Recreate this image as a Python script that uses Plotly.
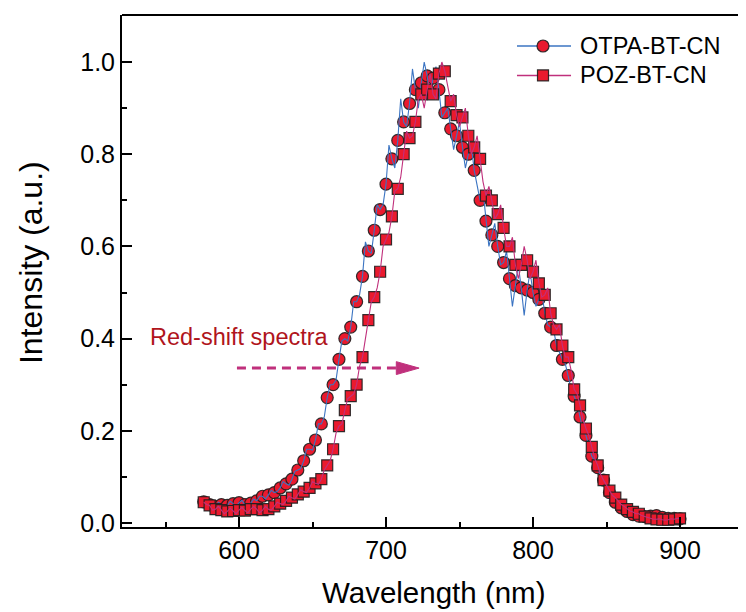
import plotly.graph_objects as go

# ---------------- data ----------------
wavelength = list(range(576, 901, 2))  # nm, 2 nm sampling

otpa_bt_cn = [
    0.046, 0.050, 0.040, 0.032, 0.036, 0.045, 0.040, 0.033, 0.038, 0.047,
    0.042, 0.036, 0.044, 0.049, 0.040, 0.035, 0.043, 0.052, 0.048, 0.058,
    0.058, 0.052, 0.061, 0.071, 0.066, 0.068, 0.076, 0.090, 0.085, 0.082,
    0.095, 0.112, 0.115, 0.118, 0.135, 0.160, 0.160, 0.158, 0.180, 0.215,
    0.215, 0.230, 0.272, 0.300, 0.300, 0.310, 0.355, 0.395, 0.400, 0.395,
    0.425, 0.480, 0.480, 0.495, 0.535, 0.610, 0.590, 0.585, 0.635, 0.690,
    0.680, 0.690, 0.735, 0.820, 0.790, 0.770, 0.830, 0.920, 0.870, 0.860,
    0.910, 0.985, 0.940, 0.900, 0.955, 1.000, 0.970, 0.920, 0.965, 0.990,
    0.940, 0.880, 0.890, 0.900, 0.855, 0.810, 0.840, 0.870, 0.815, 0.770,
    0.800, 0.820, 0.765, 0.730, 0.700, 0.720, 0.655, 0.600, 0.625, 0.650,
    0.600, 0.560, 0.565, 0.590, 0.530, 0.470, 0.515, 0.560, 0.510, 0.450,
    0.505, 0.545, 0.500, 0.470, 0.485, 0.500, 0.455, 0.430, 0.425, 0.420,
    0.385, 0.370, 0.355, 0.345, 0.320, 0.290, 0.275, 0.260, 0.230, 0.200,
    0.190, 0.170, 0.145, 0.135, 0.120, 0.100, 0.093, 0.080, 0.066, 0.050,
    0.045, 0.040, 0.033, 0.030, 0.025, 0.016, 0.018, 0.020, 0.015, 0.010,
    0.014, 0.018, 0.015, 0.011, 0.016, 0.014, 0.012, 0.008, 0.010, 0.013,
    0.010, 0.006, 0.009,
]

poz_bt_cn = [
    0.045, 0.040, 0.038, 0.028, 0.030, 0.036, 0.028, 0.020, 0.025, 0.032,
    0.026, 0.020, 0.028, 0.034, 0.027, 0.022, 0.030, 0.036, 0.030, 0.022,
    0.028, 0.036, 0.030, 0.028, 0.036, 0.045, 0.042, 0.040, 0.048, 0.058,
    0.055, 0.052, 0.062, 0.072, 0.068, 0.066, 0.076, 0.090, 0.086, 0.084,
    0.095, 0.115, 0.125, 0.135, 0.160, 0.195, 0.210, 0.215, 0.245, 0.270,
    0.275, 0.280, 0.300, 0.340, 0.360, 0.400, 0.440, 0.480, 0.490, 0.510,
    0.545, 0.600, 0.615, 0.630, 0.665, 0.720, 0.725, 0.750, 0.800, 0.850,
    0.835, 0.840, 0.870, 0.920, 0.930, 0.900, 0.940, 0.975, 0.930, 0.920,
    0.975, 1.000, 0.980, 0.950, 0.915, 0.930, 0.885, 0.860, 0.880, 0.900,
    0.840, 0.800, 0.815, 0.840, 0.790, 0.740, 0.710, 0.730, 0.700, 0.660,
    0.670, 0.690, 0.640, 0.600, 0.600, 0.620, 0.560, 0.530, 0.560, 0.600,
    0.570, 0.530, 0.545, 0.570, 0.520, 0.490, 0.495, 0.510, 0.455, 0.430,
    0.420, 0.430, 0.385, 0.360, 0.360, 0.330, 0.290, 0.280, 0.255, 0.225,
    0.205, 0.190, 0.165, 0.140, 0.125, 0.105, 0.093, 0.082, 0.070, 0.060,
    0.055, 0.048, 0.040, 0.036, 0.030, 0.026, 0.024, 0.020, 0.020, 0.016,
    0.014, 0.012, 0.010, 0.008, 0.008, 0.009, 0.007, 0.006, 0.007, 0.009,
    0.008, 0.010, 0.010,
]

series_names = ["OTPA-BT-CN", "POZ-BT-CN"]
x_ticks = [600, 700, 800, 900]
y_ticks = [0.0, 0.2, 0.4, 0.6, 0.8, 1.0]
x_title = "Wavelength (nm)"
y_title = "Intensity (a.u.)"
annotation_text = "Red-shift spectra"

# ---------------- styles ----------------
FONT = "Liberation Sans, Arial, sans-serif"
BLUE = "#3b74c2"
MAGENTA = "#c0307c"
RED = "#ea1a2e"
EDGE = "rgba(30,30,30,0.9)"
MARK_STEP = 2

circle_marker = dict(symbol="circle", size=12, color=RED, line=dict(color=EDGE, width=1.2))
square_marker = dict(symbol="square", size=11, color=RED, line=dict(color=EDGE, width=1.2))

fig = go.Figure()

# OTPA-BT-CN: symbols then line
fig.add_trace(go.Scatter(
    x=wavelength[::MARK_STEP], y=otpa_bt_cn[::MARK_STEP], mode="markers",
    marker=circle_marker, showlegend=False, hoverinfo="skip"))
fig.add_trace(go.Scatter(
    x=wavelength, y=otpa_bt_cn, mode="lines",
    line=dict(color=BLUE, width=1.1), showlegend=False))

# POZ-BT-CN
fig.add_trace(go.Scatter(
    x=wavelength[::MARK_STEP], y=poz_bt_cn[::MARK_STEP], mode="markers",
    marker=square_marker, showlegend=False, hoverinfo="skip"))
fig.add_trace(go.Scatter(
    x=wavelength, y=poz_bt_cn, mode="lines",
    line=dict(color=MAGENTA, width=1.1), showlegend=False))

# ---- custom legend drawn on an overlay axis spanning the plot area (0..1) ----
legend_rows = [(0.9395, BLUE, circle_marker), (0.882, MAGENTA, square_marker)]
for (ly, col, mk), name in zip(legend_rows, series_names):
    fig.add_trace(go.Scatter(x=[0.633, 0.7196], y=[ly, ly], mode="lines",
                             line=dict(color=col, width=1.5), xaxis="x2", yaxis="y2",
                             showlegend=False, hoverinfo="skip"))
    fig.add_trace(go.Scatter(x=[0.6747], y=[ly], mode="markers", marker=mk,
                             xaxis="x2", yaxis="y2", showlegend=False, hoverinfo="skip"))
    fig.add_annotation(x=0.7308, y=ly, xref="paper", yref="paper", text=name,
                       showarrow=False, xanchor="left", yanchor="middle",
                       font=dict(family=FONT, size=23.5, color="black"))

# red-shift arrow (dashed shaft + head)
fig.add_shape(type="line", x0=598.6, x1=712, y0=0.336, y1=0.336, xref="x", yref="y",
              line=dict(color=MAGENTA, width=3, dash="9px,6px"))
fig.add_shape(type="path", xref="x", yref="y",
              path="M 707,0.350 L 722.5,0.336 L 707,0.322 Z",
              fillcolor=MAGENTA, line=dict(color=MAGENTA, width=1))
fig.add_annotation(x=0.0417, y=0.371, xref="paper", yref="paper", text=annotation_text,
                   showarrow=False, xanchor="left", yanchor="middle",
                   font=dict(family=FONT, size=23.5, color="#b0151c"))

# axis titles
fig.add_annotation(x=0.5, y=-0.127, xref="paper", yref="paper", text=x_title,
                   showarrow=False, xanchor="center", yanchor="middle",
                   font=dict(family=FONT, size=29.5, color="black"))
fig.add_annotation(x=-0.1458, y=0.5156, xref="paper", yref="paper", text=y_title,
                   showarrow=False, xanchor="center", yanchor="middle", textangle=-90,
                   font=dict(family=FONT, size=32, color="black"))

# top frame line
fig.add_shape(type="line", xref="paper", yref="paper", x0=0, x1=1, y0=1, y1=1,
              line=dict(color="black", width=2))

axis_common = dict(
    showgrid=False, zeroline=False, showline=True, linecolor="black", linewidth=2,
    ticks="inside", ticklen=10, tickwidth=2, tickcolor="black",
    tickfont=dict(family=FONT, size=25, color="black"), mirror=False,
)

xaxis_cfg = dict(
    axis_common, range=[520.4, 944.9], tickmode="array", tickvals=x_ticks,
    minor=dict(ticks="inside", ticklen=5, tickwidth=2, tickcolor="black", dtick=50, tick0=550),
)
yaxis_cfg = dict(
    axis_common, range=[-0.0087, 1.102], tickmode="array", tickvals=y_ticks,
    ticktext=[f"{v:.1f}" for v in y_ticks],
    minor=dict(ticks="inside", ticklen=5, tickwidth=2, tickcolor="black", dtick=0.1, tick0=0.1),
)

# page body has an 8px default margin: shrink the figure so the plot lands in place
fig.update_layout(
    width=738, height=604,
    margin=dict(l=114, r=0, t=7, b=85, autoexpand=False),
    paper_bgcolor="white", plot_bgcolor="white",
    font=dict(family=FONT, color="black"),
    showlegend=False,
    xaxis=xaxis_cfg,
    yaxis=yaxis_cfg,
    xaxis2=dict(overlaying="x", range=[0, 1], visible=False, fixedrange=True),
    yaxis2=dict(overlaying="y", range=[0, 1], visible=False, fixedrange=True),
)

fig.write_html("out.html")
